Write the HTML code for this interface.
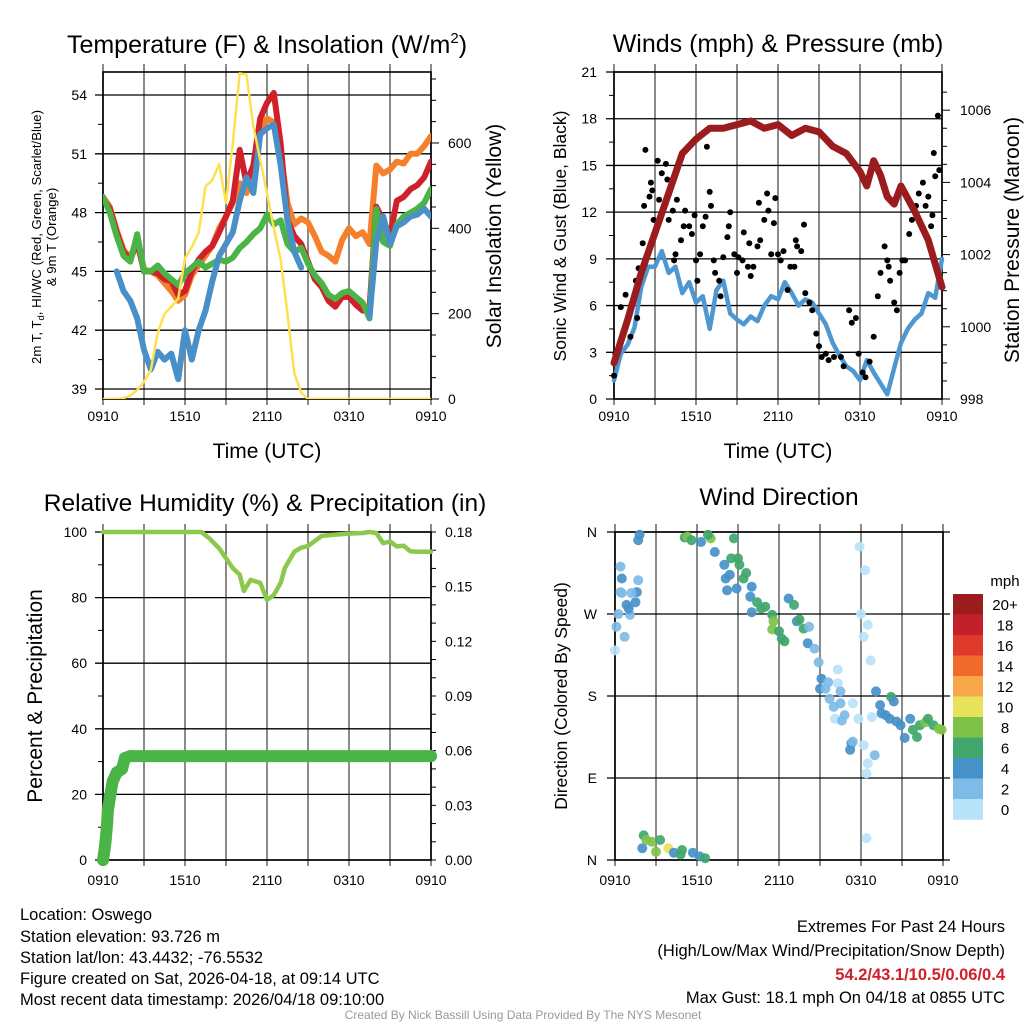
<!DOCTYPE html>
<html><head><meta charset="utf-8"><title>Oswego Mesonet</title>
<style>
html,body{margin:0;padding:0;background:#fff;}
svg{display:block;font-family:"Liberation Sans",Arial,sans-serif;}
</style></head>
<body>
<svg id="fig" xmlns="http://www.w3.org/2000/svg" width="1024" height="1024" viewBox="0 0 1024 1024">
<rect x="0" y="0" width="1024" height="1024" fill="#fff"/>
<g id="p1"></g>
<g id="p2"></g>
<g id="p3"></g>
<g id="p4"></g>

<text x="267" y="53" font-size="25" text-anchor="middle">Temperature (F) &amp; Insolation (W/m<tspan dy="-10" font-size="15">2</tspan><tspan dy="10">)</tspan></text>
<text x="778" y="52" font-size="25" text-anchor="middle">Winds (mph) &amp; Pressure (mb)</text>
<text x="265" y="511" font-size="24.5" text-anchor="middle">Relative Humidity (%) &amp; Precipitation (in)</text>
<text x="779" y="505" font-size="24.5" text-anchor="middle">Wind Direction</text>

<text transform="translate(41,237) rotate(-90)" font-size="13.2" text-anchor="middle">2m T, T<tspan dy="3" font-size="9.5">d</tspan><tspan dy="-3">, HI/WC (Red, Green, Scarlet/Blue)</tspan></text>
<text transform="translate(56,237) rotate(-90)" font-size="13.2" text-anchor="middle">&amp; 9m T (Orange)</text>
<text transform="translate(501,236) rotate(-90)" font-size="21" text-anchor="middle">Solar Insolation (Yellow)</text>
<text x="267" y="458" font-size="21" text-anchor="middle">Time (UTC)</text>
<text transform="translate(566,236) rotate(-90)" font-size="17.5" text-anchor="middle">Sonic Wind &amp; Gust (Blue, Black)</text>
<text transform="translate(1019,240) rotate(-90)" font-size="21" text-anchor="middle">Station Pressure (Maroon)</text>
<text x="778" y="458" font-size="21" text-anchor="middle">Time (UTC)</text>
<text transform="translate(42,696) rotate(-90)" font-size="21" text-anchor="middle">Percent &amp; Precipitation</text>
<text transform="translate(567,696) rotate(-90)" font-size="17.5" text-anchor="middle">Direction (Colored By Speed)</text>
<text x="1005" y="586" font-size="15" text-anchor="middle">mph</text>

<g font-size="16.5">
<text x="20" y="920">Location: Oswego</text>
<text x="20" y="942">Station elevation: 93.726 m</text>
<text x="20" y="963">Station lat/lon: 43.4432; -76.5532</text>
<text x="20" y="984">Figure created on Sat, 2026-04-18, at 09:14 UTC</text>
<text x="20" y="1005">Most recent data timestamp: 2026/04/18 09:10:00</text>
</g>
<g font-size="16.5" text-anchor="end">
<text x="1005" y="932">Extremes For Past 24 Hours</text>
<text x="1005" y="956">(High/Low/Max Wind/Precipitation/Snow Depth)</text>
<text x="1005" y="980" fill="#d0202a" font-weight="bold">54.2/43.1/10.5/0.06/0.4</text>
<text x="1005" y="1003">Max Gust: 18.1 mph On 04/18 at 0855 UTC</text>
</g>
<text x="523" y="1019" font-size="12" fill="#999" text-anchor="middle">Created By Nick Bassill Using Data Provided By The NYS Mesonet</text>
</svg>

<script>
// ---------- DATA ----------
const timeTicks = ["0910","1510","2110","0310","0910"];
const tHours = [0,0.5,1,1.5,2,2.5,3,3.5,4,4.5,5,5.5,6,6.5,7,7.5,8,8.5,9,9.5,10,10.5,11,11.5,12,12.5,13,13.5,14,14.5,15,15.5,16,16.5,17,17.5,18,18.5,19,19.5,20,20.5,21,21.5,22,22.5,23,23.5,24];
const tempRed = [48.7,48.2,47.0,46.0,45.6,46.5,45.0,45.0,44.9,44.6,44.5,43.8,44.0,45.0,45.6,46.0,46.3,47.0,47.8,48.6,51.2,49.5,50.4,52.8,53.6,54.1,51.5,47.6,46.8,46.4,45.5,44.6,44.2,43.5,43.2,43.7,43.7,43.3,43.0,43.1,48.3,47.6,46.8,48.6,48.8,49.2,49.4,49.8,50.6];
const tempOrange = [48.8,48.3,47.1,46.1,45.7,46.6,45.1,45.0,44.8,44.4,44.0,43.5,43.8,44.8,45.3,45.8,46.3,47.2,47.8,48.5,49.5,49.0,50.0,52.0,52.8,52.6,51.0,48.5,47.4,47.7,47.5,46.8,46.0,45.8,45.5,46.6,47.2,46.8,47.0,46.4,50.4,50.0,50.2,50.6,50.5,51.0,51.0,51.4,51.9];
const tempGreen = [48.8,48.0,46.8,45.8,45.5,46.9,45.0,45.0,45.3,44.9,44.6,44.3,44.9,45.2,45.5,45.2,45.4,45.6,45.5,45.7,46.2,46.5,46.9,47.2,47.9,47.4,47.6,46.4,46.0,46.2,45.4,44.8,44.4,43.8,43.6,43.9,44.0,43.7,43.4,42.6,48.2,46.5,46.3,47.4,47.8,48.0,48.2,48.5,49.2];
const tempBlue = [null,null,45.0,44.0,43.5,42.6,41.0,40.0,40.9,40.5,40.8,39.5,42.0,40.5,42.0,43.0,44.5,45.8,46.4,47.0,48.6,49.8,49.0,52.0,52.3,52.5,50.4,47.6,46.0,45.2,null,null,null,null,null,null,null,null,null,42.7,46.5,47.8,46.4,47.3,47.5,47.8,47.9,48.2,47.8];
const solar = [0,0,0,2,8,21,40,68,155,200,216,235,330,356,390,498,513,550,460,600,763,760,640,560,482,400,326,200,60,15,0,0,0,0,0,0,0,0,0,0,0,0,0,0,0,0,0,0,0];
const tempTicks = [39,42,45,48,51,54];
const solarTicks = [0,200,400,600];

const sonicWind = [1.2,2.9,3.5,4.6,7.2,8.5,8.5,9.5,8.1,8.5,6.8,7.5,6.2,6.6,4.5,7.0,7.6,5.5,5.1,4.8,5.3,5.0,6.0,6.6,6.4,7.5,6.8,6.0,6.4,6.2,5.5,4.8,3.6,2.8,2.1,1.8,1.2,2.5,1.7,1.0,0.3,2.0,3.6,4.5,5.1,5.5,6.8,6.5,9.0];
const pressHours = [0,1,2,3,4,5,6,7,8,9,10,11,12,13,14,15,16,17,18,18.5,19,19.5,20,20.5,21,22,23,24];
const pressure = [999.0,1000.2,1001.5,1002.6,1003.7,1004.8,1005.2,1005.5,1005.5,1005.6,1005.7,1005.5,1005.6,1005.3,1005.5,1005.4,1005.0,1004.8,1004.3,1003.9,1004.6,1004.2,1003.6,1003.4,1003.9,1003.2,1002.4,1001.1];
const gustHours = [0,0.1,0.5,0.85,1.2,1.6,1.7,1.8,2.1,2.2,2.3,2.6,2.7,2.8,2.9,3.2,3.3,3.5,3.8,3.9,4.0,4.3,4.4,4.5,4.6,4.9,5.1,5.2,5.5,5.7,5.9,6.0,6.1,6.3,6.5,6.7,6.8,7.0,7.1,7.3,7.4,7.7,7.8,8.0,8.3,8.4,8.5,8.8,9.0,9.1,9.4,9.5,9.8,9.9,10.0,10.2,10.5,10.6,10.7,11.0,11.2,11.3,11.5,11.7,11.8,12.0,12.2,12.4,12.7,12.9,13.2,13.3,13.4,13.7,13.9,14.0,14.3,14.5,14.8,15.0,15.2,15.5,15.7,16.1,16.6,16.8,17.2,17.4,17.7,17.9,18.2,18.4,18.7,19.0,19.3,19.5,19.8,20.0,20.1,20.2,20.5,20.7,20.9,21.1,21.3,21.6,21.8,22.1,22.3,22.6,22.8,23.0,23.2,23.3,23.4,23.5,23.7,23.8];
const gustMph = [1.5,2.9,5.9,6.7,4.0,7.6,5.2,8.4,10.0,12.4,16.0,13.0,13.9,13.4,11.5,15.3,12.8,14.5,15.1,14.1,11.5,12.1,8.9,9.3,12.8,10.2,11.1,12.1,11.1,10.6,11.8,8.9,7.6,9.3,11.1,11.7,16.2,13.3,12.4,8.9,8.1,7.6,6.6,9.1,10.4,11.1,12.0,9.3,8.1,9.1,8.9,10.7,8.5,10.0,7.9,8.5,9.8,12.6,10.2,11.5,13.2,12.1,9.3,11.3,12.9,9.3,8.9,9.5,7.0,8.5,8.5,10.2,9.8,9.5,11.2,6.8,6.2,5.7,4.2,3.4,2.7,2.9,2.5,2.7,2.7,2.1,5.7,4.9,5.2,2.9,1.7,1.4,2.4,4.0,6.6,8.1,9.8,8.9,8.5,7.6,6.2,5.7,8.1,8.9,8.9,10.6,11.5,12.4,13.2,13.9,12.4,13.0,11.1,11.8,15.8,14.3,18.2,14.7];
const windTicks = [0,3,6,9,12,15,18,21];
const pressTicks = [998,1000,1002,1004,1006];

const rhHours = [0,7.2,7.8,8.5,9,9.5,10,10.3,10.8,11.5,12,12.5,13,13.3,14,14.5,15,16,17,18,19,19.5,20,20.5,21,21.5,22,22.5,23,24];
const rh = [100,100,98,95,92,89,87,82,85.4,84.5,79.3,80.8,84.5,89,94,95.2,95.7,98.8,99.2,99.5,99.7,100,99.7,96.6,97.1,95.6,95.8,94.1,94,94];
const precipHours = [0,0.1,0.2,0.3,0.35,0.5,0.7,1.0,1.4,1.6,2.0,24];
const precip = [0,0.005,0.011,0.020,0.027,0.034,0.043,0.048,0.050,0.056,0.057,0.057];
const rhTicks = [0,20,40,60,80,100];
const precipTicks = ["0.00","0.03","0.06","0.09","0.12","0.15","0.18"];

const dirHours = [0,0.1,0.25,0.7,0.85,1.1,1.0,1.5,1.6,1.2,0.5,0.4,0.5,0.4,1.7,1.7,1.8,5.1,5.3,5.6,6.3,7.0,6.8,7.3,8.0,8.1,8.2,8.4,8.7,8.5,9.0,8.9,9.1,9.4,9.6,10.0,9.9,10.0,10.4,10.7,11.0,11.5,11.6,11.5,12.0,12.2,12.4,12.7,13.1,13.3,13.5,13.8,14.1,14.2,14.6,14.9,15.1,15.0,15.4,15.6,15.7,16.0,16.1,16.3,16.3,16.5,16.5,16.8,16.6,17.4,17.3,17.2,17.4,17.9,18.3,18.0,18.5,18.2,18.7,17.8,18.2,18.8,19.0,18.5,18.4,18.4,19.1,19.4,19.5,19.8,20.1,20.2,20.4,20.6,20.9,21.2,21.6,21.8,22.1,22.3,22.7,22.9,23.3,23.7,23.9,2.1,2.0,2.3,2.7,3.0,3.3,3.9,4.3,4.8,4.9,5.7,6.2,6.6];
const dirDeg = [230,256,270,245,280,269,276,283,294,293,293,294,309,322,307,351,357,354,355,351,349,353,357,338,324,309,296,313,353,331,331,298,324,309,315,300,289,272,283,276,278,269,262,253,251,243,240,287,280,262,264,254,238,256,232,217,199,188,188,195,177,168,155,209,194,185,172,159,153,172,128,121,130,344,318,270,258,245,219,155,126,157,115,106,95,24,185,170,161,159,155,179,174,152,148,134,155,143,135,148,151,155,148,144,143,27,13,22,20,9,22,13,8,6,11,8,4,2];
const dirSpeed = [1,3,3,3,5,3,5,5,5,3,3,3,5,3,3,5,5,7,9,7,5,9,7,5,5,5,5,5,7,7,7,5,7,7,7,5,5,5,7,7,7,7,9,9,7,7,7,5,7,5,7,7,5,3,3,3,5,5,3,3,3,3,1,1,1,3,3,3,3,1,5,5,3,1,1,1,1,1,1,1,1,1,3,1,1,1,5,5,5,5,5,7,5,5,5,5,5,7,7,7,9,7,7,9,9,7,5,9,9,9,7,10.5,5,7,7,5,5,7];
const dirTicks = ["N","E","S","W","N"];
const speedBins = ["0","2","4","6","8","10","12","14","16","18","20+"];
const speedColors = ["#b8e3f8","#7ebbe6","#4691c8","#3fa66c","#7fc24a","#e8e25a","#f8a848","#f06a2d","#e03a2c","#c4202b","#9b1b1e"];

// ---------- HELPERS ----------
const NS = "http://www.w3.org/2000/svg";
function mk(tag, parent, name){
  const el = document.createElementNS(NS, tag);
  
  
  parent.appendChild(el);
  return el;
}
function ln(parent, x1, y1, x2, y2, col, w, name){
  const el = mk('line', parent, name);
  el.setAttribute('x1', x1); el.setAttribute('y1', y1);
  el.setAttribute('x2', x2); el.setAttribute('y2', y2);
  el.setAttribute('stroke', col); el.setAttribute('stroke-width', w);
  return el;
}
function tx(parent, x, y, s, anchor, size, name){
  const el = mk('text', parent, name);
  el.setAttribute('x', x); el.setAttribute('y', y);
  el.setAttribute('text-anchor', anchor); el.setAttribute('font-size', size);
  el.textContent = s;
  return el;
}
function path(parent, xs, ys, fx, fy, col, w, name){
  let d = "", pen = false;
  for (let i = 0; i < xs.length; i++){
    if (ys[i] === null){ pen = false; continue; }
    d += (pen ? "L" : "M") + fx(xs[i]).toFixed(1) + "," + fy(ys[i]).toFixed(1);
    pen = true;
  }
  const el = mk('path', parent, name);
  el.setAttribute('d', d); el.setAttribute('fill', 'none');
  el.setAttribute('stroke', col); el.setAttribute('stroke-width', w);
  el.setAttribute('stroke-linejoin', 'round'); el.setAttribute('stroke-linecap', 'round');
  return el;
}
function frame(g, x0, y0, x1, y1, xfn, tickY){
  for (let h = 0; h <= 24; h += 3){
    ln(g, xfn(h), y0 - 8, xfn(h), y1 + 6, '#6e6e6e', 1.6, 'x-grid-line');
  }
  timeTicks.forEach((s, i) => {
    tx(g, xfn(i * 6), tickY, s, 'middle', 14, 'x-tick-label');
  });
  const r = mk('rect', g, 'plot-frame');
  r.setAttribute('x', x0); r.setAttribute('y', y0);
  r.setAttribute('width', x1 - x0); r.setAttribute('height', y1 - y0);
  r.setAttribute('fill', 'none'); r.setAttribute('stroke', '#000'); r.setAttribute('stroke-width', 1.6);
}
function clip(id, x0, y0, x1, y1){
  const svg = document.getElementById('fig');
  let defs = svg.querySelector('defs');
  if (!defs){ defs = document.createElementNS(NS, 'defs'); svg.insertBefore(defs, svg.firstChild); }
  const cp = document.createElementNS(NS, 'clipPath'); cp.setAttribute('id', id);
  const r = document.createElementNS(NS, 'rect');
  r.setAttribute('x', x0); r.setAttribute('y', y0); r.setAttribute('width', x1 - x0); r.setAttribute('height', y1 - y0);
  cp.appendChild(r); defs.appendChild(cp);
}

// ---------- PANEL 1 ----------
(function(){
  const g = document.getElementById('p1');
  const X0 = 103, X1 = 431, Y0 = 72, Y1 = 399;
  const x = h => X0 + h * (X1 - X0) / 24;
  const yT = v => 389 - (v - 39) * 19.6;
  const yS = v => 399 - v * 0.4267;
  frame(g, X0, Y0, X1, Y1, x, 421);
  tempTicks.forEach(v => {
    ln(g, X0 - 8, yT(v), X1, yT(v), '#000', 1.3, 'y-grid-line');
    tx(g, 87, yT(v) + 5, String(v), 'end', 14, 'temperature-tick-label');
  });
  for (let v = 40.5; v < 55; v += 3){ ln(g, X0 - 5, yT(v), X0, yT(v), '#000', 1, 'temperature-minor-tick'); }
  for (let v = 0; v <= 750; v += 50){
    ln(g, X1, yS(v), X1 + (v % 200 === 0 ? 8 : 5), yS(v), '#000', 1, 'solar-tick');
  }
  solarTicks.forEach(v => { tx(g, 448, yS(v) + 5, String(v), 'start', 14, 'solar-tick-label'); });
  clip('c1', X0, Y0, X1, Y1);
  const d = mk('g', g, 'temperature-series'); d.setAttribute('clip-path', 'url(#c1)');
  path(d, tHours, tempOrange, x, yT, '#f57f2a', 6, 'orange-9m-temp-line');
  path(d, tHours, tempRed, x, yT, '#d0202a', 6, 'red-2m-temp-line');
  path(d, tHours, tempGreen, x, yT, '#4bb447', 6, 'green-heat-index-line');
  path(d, tHours, tempBlue, x, yT, '#4a90c8', 6, 'blue-dewpoint-line');
  path(d, tHours, solar, x, yS, '#ffe050', 2.5, 'yellow-solar-line');
})();

// ---------- PANEL 2 ----------
(function(){
  const g = document.getElementById('p2');
  const X0 = 614, X1 = 942, Y0 = 72, Y1 = 399;
  const x = h => X0 + h * (X1 - X0) / 24;
  const yW = v => 399 - v * 15.57;
  const yP = v => 399 - (v - 998) * 36.1;
  frame(g, X0, Y0, X1, Y1, x, 421);
  windTicks.forEach(v => {
    ln(g, X0 - 8, yW(v), X1, yW(v), '#000', 1.3, 'y-grid-line');
    tx(g, 597, yW(v) + 5, String(v), 'end', 14, 'wind-tick-label');
  });
  for (let v = 1.5; v < 21; v += 3){ ln(g, X0 - 5, yW(v), X0, yW(v), '#000', 1, 'wind-minor-tick'); }
  for (let v = 998; v <= 1006.6; v += 0.5){
    ln(g, X1, yP(v), X1 + (Math.abs(v % 2) < 0.01 ? 8 : 5), yP(v), '#000', 1, 'pressure-tick');
  }
  pressTicks.forEach(v => { tx(g, 960, yP(v) + 5, String(v), 'start', 14, 'pressure-tick-label'); });
  clip('c2', X0 - 4, Y0, X1 + 4, Y1);
  const d = mk('g', g, 'wind-series'); d.setAttribute('clip-path', 'url(#c2)');
  path(d, tHours, sonicWind, x, yW, '#4f97d0', 4.5, 'sonic-wind-line');
  for (let i = 0; i < gustHours.length; i++){
    const c = mk('circle', d, 'gust-point');
    c.setAttribute('cx', x(gustHours[i]).toFixed(1)); c.setAttribute('cy', yW(gustMph[i]).toFixed(1));
    c.setAttribute('r', 3); c.setAttribute('fill', '#000');
  }
  path(d, pressHours, pressure, x, yP, '#9b1c1e', 7, 'pressure-line');
})();

// ---------- PANEL 3 ----------
(function(){
  const g = document.getElementById('p3');
  const X0 = 103, X1 = 431, Y0 = 532, Y1 = 860;
  const x = h => X0 + h * (X1 - X0) / 24;
  const yR = v => 860 - v * 3.28;
  const yQ = v => 860 - v / 0.18 * 328;
  frame(g, X0, Y0, X1, Y1, x, 885);
  rhTicks.forEach(v => {
    ln(g, X0 - 8, yR(v), X1, yR(v), '#000', 1.3, 'y-grid-line');
    tx(g, 87, yR(v) + 5, String(v), 'end', 14, 'humidity-tick-label');
  });
  for (let v = 10; v < 100; v += 20){ ln(g, X0 - 5, yR(v), X0, yR(v), '#000', 1, 'humidity-minor-tick'); }
  for (let v = 0; v <= 0.1801; v += 0.01){
    ln(g, X1, yQ(v), X1 + 5, yQ(v), '#000', 1, 'precip-tick');
  }
  precipTicks.forEach(s => { tx(g, 445, yQ(parseFloat(s)) + 5, s, 'start', 14, 'precip-tick-label'); });
  path(g, rhHours, rh, x, yR, '#8cc84b', 4.5, 'humidity-line');
  path(g, precipHours, precip, x, yQ, '#4bb446', 12, 'precip-line');
  for (let i = 0; i < precipHours.length; i++){
    const c = mk('circle', g, 'precip-point');
    c.setAttribute('cx', x(precipHours[i]).toFixed(1)); c.setAttribute('cy', yQ(precip[i]).toFixed(1));
    c.setAttribute('r', 6); c.setAttribute('fill', '#4bb446');
  }
})();

// ---------- PANEL 4 ----------
(function(){
  const g = document.getElementById('p4');
  const X0 = 615, X1 = 943, Y0 = 532, Y1 = 860;
  const x = h => X0 + h * (X1 - X0) / 24;
  const yD = v => 860 - v * 328 / 360;
  frame(g, X0, Y0, X1, Y1, x, 885);
  dirTicks.forEach((s, i) => {
    ln(g, X0 - 8, yD(i * 90), X1 + 7, yD(i * 90), '#000', 1.3, 'y-grid-line');
    tx(g, 597, yD(i * 90) + 5, s, 'end', 14, 'direction-tick-label');
  });
  for (let i = 0; i < dirHours.length; i++){
    const bin = Math.min(10, Math.floor(dirSpeed[i] / 2));
    const c = mk('circle', g, 'direction-point');
    c.setAttribute('cx', x(dirHours[i]).toFixed(1)); c.setAttribute('cy', yD(dirDeg[i]).toFixed(1));
    c.setAttribute('r', 5); c.setAttribute('fill', speedColors[bin]); c.setAttribute('fill-opacity', 0.92);
  }
  const cb = mk('g', g, 'speed-colorbar');
  for (let i = 0; i < speedBins.length; i++){
    const k = speedBins.length - 1 - i;
    const r = mk('rect', cb, 'colorbar-swatch');
    r.setAttribute('x', 953); r.setAttribute('y', 594 + i * 20.5);
    r.setAttribute('width', 30); r.setAttribute('height', 20.8);
    r.setAttribute('fill', speedColors[k]);
    tx(cb, 1005, 594 + i * 20.5 + 16, speedBins[k], 'middle', 15, 'colorbar-label');
  }
})();
</script>
</body></html>
